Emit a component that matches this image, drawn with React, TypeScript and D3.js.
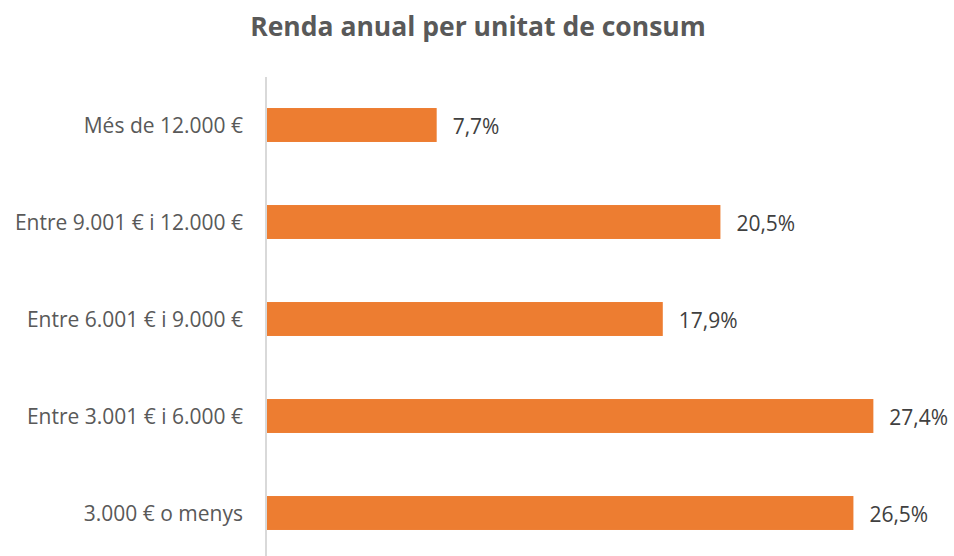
import React from "react";
import * as d3 from "d3";

const categories = [
  "Més de 12.000 €",
  "Entre 9.001 € i 12.000 €",
  "Entre 6.001 € i 9.000 €",
  "Entre 3.001 € i 6.000 €",
  "3.000 € o menys",
];
const values = [7.7, 20.5, 17.9, 27.4, 26.5];
const valueLabels = ["7,7%", "20,5%", "17,9%", "27,4%", "26,5%"];
const title = "Renda anual per unitat de consum";

const W = 954;
const H = 556;
const FONT = "'Open Sans', sans-serif";

export default function App() {
  const x = d3.scaleLinear().domain([0, 30]).range([266, 931]);
  const y = d3
    .scaleBand<string>()
    .domain(categories)
    .range([76.5, 561.5])
    .paddingInner(0.65)
    .paddingOuter(0.325);

  return (
    <svg
      width={W}
      height={H}
      style={{ position: "absolute", left: 0, top: 0, background: "#fff" }}
      fontFamily={FONT}
    >
      <text
        x={478}
        y={26}
        textAnchor="middle"
        dominantBaseline="central"
        fontSize={26.5}
        fontWeight="bold"
        fill="#595959"
      >
        {title}
      </text>
      {categories.map((c, i) => {
        const yc = (y(c) as number) + y.bandwidth() / 2;
        return (
          <g key={c}>
            <rect
              x={x(0)}
              y={y(c)}
              width={x(values[i]) - x(0)}
              height={y.bandwidth()}
              fill="#ED7D31"
            />
            <text
              x={243}
              y={yc}
              textAnchor="end"
              dominantBaseline="central"
              fontSize={21}
              fill="#595959"
            >
              {c}
            </text>
            <text
              x={x(values[i]) + 16}
              y={yc + 1}
              dominantBaseline="central"
              fontSize={21}
              fill="#404040"
            >
              {valueLabels[i]}
            </text>
          </g>
        );
      })}
      <line x1={x(0)} x2={x(0)} y1={77} y2={H} stroke="#D9D9D9" strokeWidth={2} />
    </svg>
  );
}
